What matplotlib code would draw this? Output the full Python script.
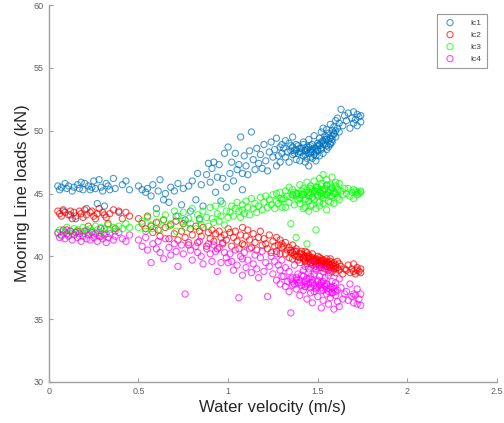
import matplotlib
matplotlib.use('Agg')
import matplotlib.pyplot as plt

plt.rcParams['font.family'] = ['Liberation Sans', 'DejaVu Sans']

# water velocity (m/s), shared by all four lines
velocity = [
    # low speed
    0.05, 0.06, 0.07, 0.08, 0.09, 0.10, 0.11, 0.12, 0.13, 0.14,
    0.15, 0.16, 0.17, 0.18, 0.19, 0.20, 0.21, 0.22, 0.23, 0.24,
    0.25, 0.26, 0.27, 0.28, 0.29, 0.30, 0.31, 0.32, 0.33, 0.34,
    0.36, 0.37, 0.39, 0.41, 0.43, 0.45,
    # 0.5 - 1.0
    0.50, 0.52, 0.54, 0.55, 0.57, 0.58, 0.60, 0.61, 0.62, 0.64,
    0.65, 0.67, 0.68, 0.70, 0.71, 0.72, 0.74, 0.75, 0.76, 0.78,
    0.79, 0.80, 0.82, 0.83, 0.84, 0.85, 0.86, 0.88, 0.89, 0.90,
    0.91, 0.92, 0.93, 0.94, 0.95, 0.96, 0.97, 0.98, 0.99, 1.00,
    # 1.0 - 1.3
    1.01, 1.02, 1.03, 1.04, 1.05, 1.06, 1.07, 1.08, 1.08, 1.09,
    1.10, 1.11, 1.12, 1.13, 1.14, 1.15, 1.16, 1.17, 1.18, 1.19,
    1.20, 1.21, 1.22, 1.23, 1.24, 1.25, 1.26, 1.27, 1.27, 1.28,
    1.29, 1.29, 1.30, 1.30,
    # 1.3 - 1.65
    1.31, 1.32, 1.32, 1.33, 1.34, 1.34, 1.35, 1.36, 1.36, 1.37,
    1.38, 1.38, 1.39, 1.40, 1.40, 1.41, 1.42, 1.42, 1.43, 1.44,
    1.44, 1.45, 1.45, 1.46, 1.46, 1.47, 1.47, 1.48, 1.48, 1.49,
    1.49, 1.50, 1.50, 1.51, 1.51, 1.52, 1.52, 1.53, 1.53, 1.54,
    1.54, 1.55, 1.55, 1.56, 1.56, 1.57, 1.57, 1.58, 1.58, 1.59,
    1.59, 1.60, 1.60, 1.61, 1.61, 1.62, 1.62, 1.63, 1.64, 1.65,
    # top speed
    1.66, 1.67, 1.68, 1.69, 1.70, 1.70, 1.71, 1.72, 1.72, 1.73,
    1.74, 1.74,
    # dense core 1.35 - 1.6
    1.35, 1.36, 1.37, 1.38, 1.39, 1.40, 1.41, 1.42, 1.43, 1.43,
    1.44, 1.45, 1.46, 1.46, 1.47, 1.48, 1.49, 1.50, 1.50, 1.51,
    1.52, 1.52, 1.53, 1.54, 1.55, 1.55, 1.56, 1.57, 1.58, 1.58,
    1.59, 1.60, 1.43, 1.45, 1.47, 1.49, 1.51, 1.53, 1.55, 1.57,
]

lc1 = [
    45.6, 45.3, 45.5, 43.6, 45.8, 45.4, 45.6, 43.3, 45.2, 45.5,
    43.0, 45.7, 45.4, 45.9, 45.3, 45.8, 43.8, 45.6, 45.3, 45.5,
    46.0, 45.4, 44.2, 46.1, 45.5, 45.2, 44.0, 45.8, 45.6, 45.3,
    46.2, 45.4, 43.5, 45.7, 46.0, 45.3,
    45.6, 45.3, 45.1, 45.4, 44.8, 45.7, 43.8, 45.2, 46.1, 44.5,
    45.0, 44.3, 45.5, 45.2, 43.2, 45.8, 44.1, 45.4, 42.9, 45.6,
    43.6, 46.0, 44.5, 46.6, 43.0, 45.7, 44.0, 46.5, 47.4, 45.9,
    47.0, 47.5, 45.1, 46.3, 47.3, 44.4, 46.2, 48.2, 45.5, 48.7,
    46.6, 47.5, 46.0, 48.2, 46.9, 47.3, 49.5, 46.6, 45.3, 48.0,
    47.2, 46.5, 48.4, 49.9, 47.7, 46.9, 48.6, 47.4, 48.1, 47.0,
    48.9, 47.6, 46.8, 48.3, 49.1, 47.9, 48.5, 47.2, 49.4, 48.0,
    48.7, 47.5, 48.9, 48.2,
    48.6, 47.9, 49.2, 48.3, 47.5, 49.0, 48.8, 48.1, 49.5, 48.4,
    47.7, 48.9, 48.2, 48.6, 47.6, 48.3, 49.1, 48.0, 48.4, 47.8,
    48.7, 48.2, 49.3, 48.5, 47.9, 48.3, 48.9, 48.1, 49.6, 48.6,
    48.0, 49.0, 48.4, 49.4, 48.8, 49.9, 48.5, 49.2, 50.2, 48.9,
    49.6, 49.3, 50.1, 48.7, 49.8, 50.5, 49.4, 50.0, 49.1, 50.3,
    49.7, 50.8, 49.5, 50.2, 51.0, 49.9, 50.6, 51.7, 50.4, 51.2,
    50.8, 51.4, 50.2, 51.0, 50.6, 51.5, 50.9, 51.3, 50.4, 51.1,
    51.2, 50.7,
    48.4, 48.7, 48.2, 48.5, 48.8, 48.3, 48.6, 48.9, 48.4, 48.1,
    48.5, 48.7, 48.3, 48.8, 48.5, 48.6, 48.3, 48.8, 48.5, 48.9,
    49.1, 48.6, 49.0, 49.3, 48.8, 49.5, 49.2, 49.0, 49.6, 49.3,
    49.8, 50.0, 47.5, 47.2, 47.8, 47.6, 48.0, 48.2, 48.5, 48.9,
]

lc2 = [
    43.6, 43.4, 43.2, 43.7, 43.5, 42.1, 43.3, 43.6, 43.0, 43.5,
    43.2, 42.0, 43.6, 43.4, 43.1, 43.7, 43.3, 42.4, 43.5, 43.6,
    43.2, 43.0, 43.4, 43.8, 41.6, 43.5, 43.3, 43.1, 42.6, 43.4,
    43.7, 42.2, 43.6, 43.0, 43.5, 43.2,
    43.0, 42.6, 42.2, 43.2, 42.4, 41.9, 42.7, 42.1, 41.6, 42.9,
    42.3, 41.4, 42.5, 41.8, 42.8, 41.3, 42.0, 42.6, 41.5, 40.9,
    42.2, 41.7, 42.4, 41.1, 42.0, 41.6, 42.3, 40.8, 41.9, 41.4,
    42.1, 41.2, 41.8, 40.6, 42.0, 41.5, 41.0, 41.7, 41.3, 42.2,
    41.9, 40.8, 41.5, 42.0, 41.2, 40.6, 41.7, 42.3, 41.0, 40.9,
    41.6, 42.1, 41.3, 40.7, 41.8, 41.1, 40.5, 41.5, 42.0, 40.9,
    41.4, 41.0, 40.6, 41.7, 40.3, 41.2, 40.8, 41.5, 40.4, 40.9,
    41.3, 40.2, 40.7, 41.0,
    40.8, 40.2, 41.1, 40.5, 39.9, 40.7, 40.3, 40.9, 39.8, 40.4,
    40.0, 40.6, 39.7, 40.2, 39.5, 40.4, 39.9, 40.1, 39.6, 40.3,
    39.4, 39.8, 40.0, 39.5, 39.9, 39.3, 40.2, 39.6, 39.8, 39.2,
    39.7, 39.5, 40.0, 39.3, 39.6, 39.1, 39.8, 39.4, 39.7, 39.0,
    39.5, 39.2, 39.6, 38.9, 39.4, 39.1, 39.8, 39.3, 38.8, 39.5,
    39.0, 39.3, 38.7, 39.6, 39.1, 38.9, 39.4, 39.2, 38.6, 39.0,
    38.9, 39.3, 38.7, 39.0, 38.8, 39.4, 38.6, 38.9, 39.1, 38.8,
    39.0, 38.7,
    40.5, 40.3, 40.1, 40.4, 40.0, 39.9, 40.2, 39.8, 40.0, 39.7,
    39.9, 39.6, 39.8, 39.5, 39.7, 39.6, 39.4, 39.7, 39.5, 39.3,
    39.6, 39.4, 39.5, 39.3, 39.4, 39.2, 39.5, 39.3, 39.1, 39.4,
    39.2, 39.0, 40.4, 40.1, 39.9, 39.8, 39.9, 39.7, 39.8, 39.6,
]

lc3 = [
    41.8, 42.1, 41.6, 42.0, 41.9, 42.3, 41.7, 42.0, 41.8, 42.2,
    41.9, 42.1, 41.6, 42.0, 42.3, 41.8, 42.1, 41.9, 42.2, 42.0,
    41.7, 42.4, 42.1, 41.9, 42.3, 42.0, 42.2, 41.8, 42.5, 42.1,
    42.3, 42.0, 42.4, 42.2, 42.6, 42.3,
    42.3, 42.8, 42.0, 43.1, 42.5, 42.2, 43.4, 42.7, 42.1, 42.9,
    43.3, 42.4, 42.6, 43.6, 42.0, 43.2, 42.8, 43.5, 42.3, 43.0,
    42.6, 43.8, 42.2, 43.3, 42.9, 42.5, 43.6, 43.1, 42.4, 43.9,
    43.0, 42.7, 44.0, 43.4, 42.8, 43.2, 44.2, 42.5, 43.6, 43.1,
    43.5, 44.0, 43.2, 43.8, 44.3, 43.6, 43.1, 44.1, 43.7, 43.4,
    44.4, 43.9, 43.3, 44.6, 43.8, 44.2, 43.5, 44.0, 44.7, 43.7,
    44.3, 44.8, 43.9, 44.5, 44.1, 44.9, 43.8, 44.4, 45.0, 44.2,
    44.6, 45.1, 43.9, 44.5,
    44.6, 45.2, 43.9, 44.8, 45.5, 44.3, 42.6, 44.9, 45.3, 44.1,
    41.5, 45.0, 44.5, 45.7, 44.2, 44.9, 45.4, 43.8, 44.6, 45.9,
    41.0, 44.4, 45.1, 45.6, 44.0, 44.7, 45.3, 46.0, 44.5, 45.2,
    42.1, 44.8, 45.5, 46.2, 44.3, 45.0, 45.8, 44.6, 46.5, 45.3,
    44.9, 45.6, 46.1, 44.4, 45.1, 45.7, 44.8, 45.4, 46.3, 45.0,
    44.2, 45.6, 45.9, 44.7, 45.3, 45.8, 44.5, 45.2, 44.9, 45.4,
    45.0, 45.4, 44.8, 45.1, 45.3, 44.6, 45.2, 45.1, 44.9, 45.0,
    45.2, 45.1,
    44.7, 44.9, 45.1, 44.8, 45.0, 44.6, 45.2, 44.9, 45.1, 44.5,
    45.3, 44.8, 45.0, 45.4, 44.7, 45.2, 45.5, 44.9, 45.3, 45.1,
    45.6, 44.8, 45.2, 45.4, 44.9, 45.7, 45.1, 45.3, 44.8, 45.5,
    45.2, 45.0, 43.9, 43.6, 44.1, 43.8, 44.0, 44.2, 43.7, 44.3,
]

lc4 = [
    41.9, 41.5, 41.7, 42.1, 41.4, 41.8, 41.6, 42.0, 41.3, 41.7,
    41.9, 41.5, 41.8, 41.2, 41.6, 42.0, 41.4, 41.7, 41.3, 41.9,
    41.5, 41.8, 41.2, 41.6, 42.2, 41.4, 41.7, 41.1, 41.5, 41.8,
    41.3, 41.6, 41.9, 41.4, 41.2, 41.7,
    41.3, 40.8, 41.5, 40.5, 39.5, 41.0, 40.6, 41.2, 40.3, 39.8,
    41.4, 40.7, 40.1, 41.0, 40.4, 39.2, 40.9, 40.2, 37.0, 41.1,
    40.5, 39.7, 40.8, 40.3, 41.2, 40.0, 39.4, 40.6, 41.0, 40.2,
    39.6, 40.9, 40.4, 38.8, 40.7, 39.5, 41.1, 40.3, 39.9, 39.5,
    40.2, 39.6, 38.9, 40.5, 39.3, 36.7, 40.0, 39.8, 38.5, 40.3,
    39.1, 39.7, 40.6, 38.7, 39.4, 40.1, 39.0, 38.3, 39.9, 40.4,
    38.8, 39.5, 36.8, 39.2, 40.0, 38.6, 39.6, 38.1, 40.2, 39.3,
    38.9, 37.8, 39.7, 38.4,
    38.4, 37.6, 39.1, 38.0, 37.2, 38.8, 35.5, 38.3, 37.7, 39.3,
    38.1, 37.4, 38.6, 37.9, 36.9, 38.5, 37.3, 38.9, 37.6, 38.2,
    36.6, 37.8, 38.7, 37.1, 38.4, 36.3, 37.9, 38.6, 37.2, 39.0,
    37.5, 38.1, 36.8, 37.7, 38.4, 35.9, 37.3, 38.0, 36.5, 37.6,
    38.3, 37.0, 37.8, 36.2, 38.5, 37.4, 36.7, 38.0, 37.1, 37.6,
    35.8, 37.9, 36.9, 36.4, 37.3, 38.2, 36.0, 37.5, 36.6, 37.0,
    37.2, 36.5, 37.8, 36.8, 37.0, 36.3, 36.9, 36.2, 37.4, 36.6,
    36.1, 37.0,
    38.2, 38.0, 37.8, 38.3, 37.9, 38.1, 37.7, 38.4, 37.6, 38.0,
    37.8, 38.2, 37.5, 37.9, 38.1, 37.7, 37.4, 38.0, 37.6, 37.8,
    37.5, 37.9, 37.3, 37.7, 37.4, 37.8, 37.2, 37.6, 37.5, 37.1,
    37.4, 37.2, 39.2, 39.0, 39.4, 38.9, 39.1, 38.8, 39.0, 38.7,
]

series = [lc1, lc2, lc3, lc4]
names = ['lc1', 'lc2', 'lc3', 'lc4']
colors = ['#0072BD', '#FF0000', '#00FF00', '#FF00FF']

fig = plt.figure(figsize=(5.04, 4.23), dpi=100, facecolor='white')
ax = fig.add_axes([0.097, 0.097, 0.889, 0.891])

for ys, name, c in zip(series, names, colors):
    ax.scatter(velocity, ys, s=20, facecolors='none', edgecolors=c,
               linewidths=0.8, alpha=0.7, label=name)

ax.set_xlim(0, 2.5)
ax.set_ylim(30, 60)
ax.set_xticks([0, 0.5, 1, 1.5, 2, 2.5])
ax.set_xticklabels(['0', '0.5', '1', '1.5', '2', '2.5'])
ax.set_yticks([30, 35, 40, 45, 50, 55, 60])

for s in ['top', 'right']:
    ax.spines[s].set_visible(False)
for s in ['left', 'bottom']:
    ax.spines[s].set_color('#a0a0a0')
    ax.spines[s].set_linewidth(1.0)
ax.tick_params(direction='in', length=3, width=0.8, colors='#a0a0a0',
               labelsize=6.5, labelcolor='#606060')

ax.set_xlabel('Water velocity (m/s)', fontsize=12, color='#262626', labelpad=3)
ax.set_ylabel('Mooring Line loads (kN)', fontsize=12, color='#262626', labelpad=3)

leg = ax.legend(loc='upper right', bbox_to_anchor=(0.966, 0.967),
                bbox_transform=fig.transFigure, fontsize=6, frameon=True,
                fancybox=False, edgecolor='#808080', handletextpad=1.5,
                borderpad=0.6, labelspacing=0.5, borderaxespad=0)
leg.get_frame().set_linewidth(0.8)
for t in leg.get_texts():
    t.set_color('#404040')

fig.savefig('out.png', dpi=100, facecolor='white')
